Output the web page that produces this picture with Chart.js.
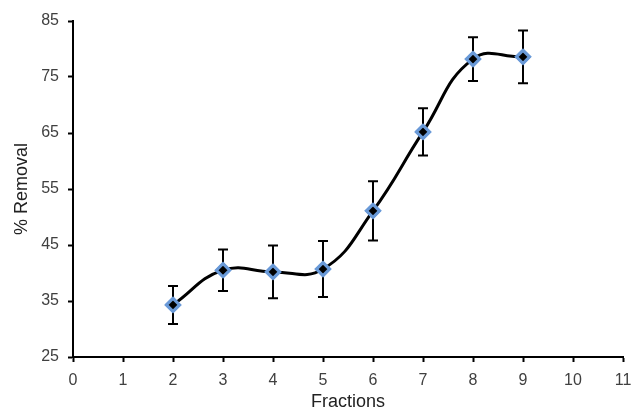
<!DOCTYPE html>
<html>
<head>
<meta charset="utf-8">
<script src="https://cdn.jsdelivr.net/npm/chart.js@4"></script>
<style>
  html, body { margin: 0; padding: 0; background: #fff; }
  #wrap { width: 633px; height: 415px; }
</style>
</head>
<body>
<div id="wrap"><canvas id="removalChart"></canvas></div>
<script>
// data
const fractions = [2, 3, 4, 5, 6, 7, 8, 9];
const removal = [34.3, 40.5, 40.2, 40.7, 51.1, 65.2, 78.2, 78.6];
const errors = [3.4, 3.7, 4.7, 5.0, 5.3, 4.2, 3.9, 4.7];
const yTicks = [25, 35, 45, 55, 65, 75, 85];

const points = fractions.map((x, i) => ({ x: x, y: removal[i] }));

// error bars drawn through the chart's own scales
const errorBars = {
  id: 'errorBars',
  afterDatasetsDraw(chart) {
    const ctx = chart.ctx;
    const xs = chart.scales.x, ys = chart.scales.y;
    ctx.save();
    ctx.strokeStyle = '#000';
    ctx.lineWidth = 2;
    points.forEach((p, i) => {
      const px = xs.getPixelForValue(p.x);
      const top = ys.getPixelForValue(p.y + errors[i]);
      const bot = ys.getPixelForValue(p.y - errors[i]);
      ctx.beginPath();
      ctx.moveTo(px, top); ctx.lineTo(px, bot);
      ctx.moveTo(px - 5, top); ctx.lineTo(px + 5, top);
      ctx.moveTo(px - 5, bot); ctx.lineTo(px + 5, bot);
      ctx.stroke();
    });
    // redraw markers on top of the bars
    chart.getDatasetMeta(0).data.forEach(el => el.draw(ctx, chart.chartArea));
    ctx.restore();
  }
};

const ctx = document.getElementById('removalChart').getContext('2d');
new Chart(ctx, {
  type: 'line',
  data: {
    datasets: [{
      data: points,
      borderColor: '#000',
      borderWidth: 3,
      tension: 0.45,
      fill: false,
      pointStyle: 'rectRot',
      pointRadius: 6.5,
      pointBackgroundColor: '#000',
      pointBorderColor: '#6a9ad8',
      pointBorderWidth: 3
    }]
  },
  options: {
    responsive: true,
    maintainAspectRatio: false,
    animation: false,
    layout: { padding: { top: 21, right: 10, left: 0, bottom: 0 } },
    plugins: { legend: { display: false }, tooltip: { enabled: false } },
    scales: {
      x: {
        type: 'linear',
        min: 0,
        max: 11,
        ticks: { stepSize: 1, color: '#404040', font: { family: 'Liberation Sans, Arial', size: 16 }, padding: 9, maxRotation: 0 },
        grid: { drawOnChartArea: false, color: '#000', tickLength: 5, tickWidth: 2 },
        border: { color: '#000', width: 2 },
        title: { display: true, text: 'Fractions', color: '#222', font: { family: 'Liberation Sans, Arial', size: 18 }, padding: { top: 0, bottom: 2 } },
        afterFit(scale) { scale.height = 58; scale.paddingRight = 0; scale.paddingLeft = 0; }
      },
      y: {
        min: 25,
        max: 85,
        afterBuildTicks(scale) { scale.ticks = yTicks.map(v => ({ value: v })); },
        ticks: { color: '#404040', font: { family: 'Liberation Sans, Arial', size: 16 }, padding: 9 },
        grid: { drawOnChartArea: false, color: '#000', tickLength: 5, tickWidth: 2 },
        border: { color: '#000', width: 2 },
        title: { display: true, text: '% Removal', color: '#222', font: { family: 'Liberation Sans, Arial', size: 18 }, padding: { top: 11, bottom: 4 } },
        afterFit(scale) { scale.width = 73; scale.paddingTop = 0; scale.paddingBottom = 0; }
      }
    }
  },
  plugins: [errorBars]
});
</script>
</body>
</html>
